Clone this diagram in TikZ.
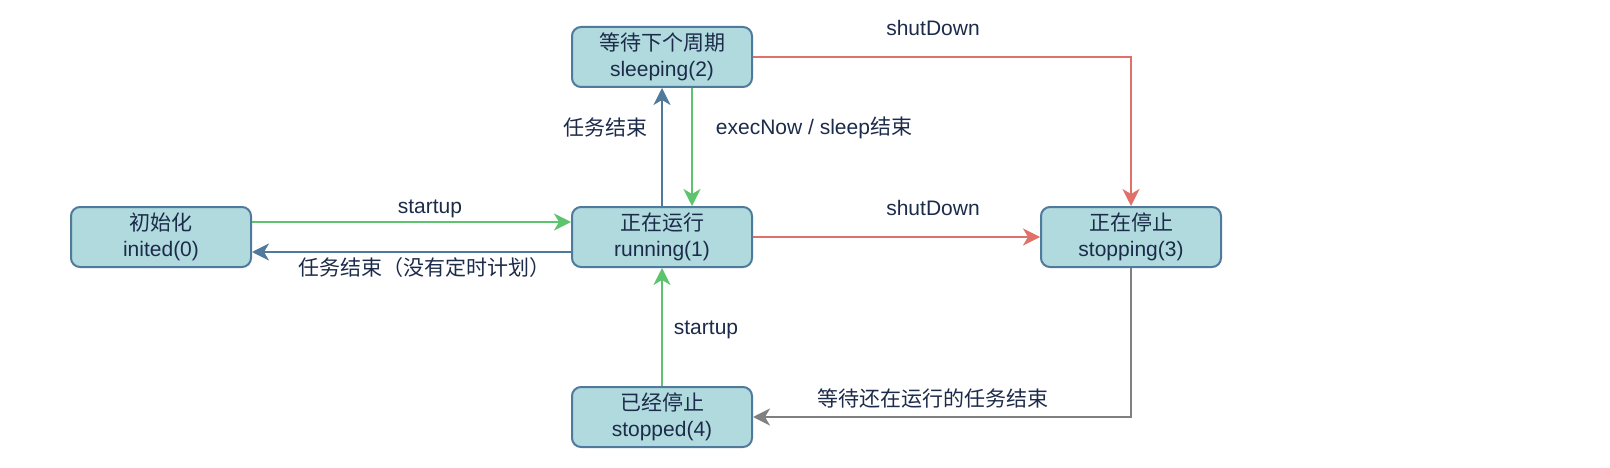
\documentclass[tikz,border=0pt]{standalone}
\usepackage{fontspec}
\setmainfont{Liberation Sans}
\newfontfamily\cjk{Noto Sans CJK SC}
\usetikzlibrary{arrows.meta}
\definecolor{boxfill}{HTML}{B0DADE}
\definecolor{boxline}{HTML}{4F7A9C}
\definecolor{txt}{HTML}{1C2B4A}
\definecolor{grn}{HTML}{5CC46C}
\definecolor{rd}{HTML}{E0706A}
\definecolor{gry}{HTML}{808080}
\begin{document}
\begin{tikzpicture}[x=1pt,y=-1pt,
  state/.style={draw=boxline, fill=boxfill, line width=2pt, rounded corners=9pt,
    minimum width=180pt, minimum height=60pt, align=center, text=txt,
    font=\fontsize{21}{26}\selectfont, inner sep=0pt},
  lbl/.style={text=txt, font=\fontsize{21}{26}\selectfont, inner sep=0pt},
  conn/.style={line width=2pt, -{Stealth[length=17pt,width=17pt,inset=5pt]}},
]
\useasboundingbox (0,0) rectangle (1610,468);
\node[state] (inited)   at (161,237)  {{\cjk 初始化}\\inited(0)};
\node[state] (running)  at (662,237)  {{\cjk 正在运行}\\running(1)};
\node[state] (sleeping) at (662,57)   {{\cjk 等待下个周期}\\sleeping(2)};
\node[state] (stopping) at (1131,237) {{\cjk 正在停止}\\stopping(3)};
\node[state] (stopped)  at (662,417)  {{\cjk 已经停止}\\stopped(4)};

\draw[conn, grn] ([yshift=15pt]inited.east) -- ([yshift=15pt]running.west);
\draw[conn, boxline] ([yshift=-15pt]running.west) -- ([yshift=-15pt]inited.east);
\draw[conn, boxline] (running.north) -- (sleeping.south);
\draw[conn, grn] ([xshift=30pt]sleeping.south) -- ([xshift=30pt]running.north);
\draw[conn, rd] (sleeping.east) -| (stopping.north);
\draw[conn, rd] (running.east) -- (stopping.west);
\draw[conn, gry] (stopping.south) |- (stopped.east);
\draw[conn, grn] (stopped.north) -- (running.south);

\node[lbl] (l1) at (430,209) {startup};
\node[lbl] (l2) at (424,268) {\cjk 任务结束（没有定时计划）};
\node[lbl] (l3) at (605,128) {\cjk 任务结束};
\node[lbl] (l4) at (814,128) {execNow / sleep{\cjk 结束}};
\node[lbl] (l5) at (933,28)  {shutDown};
\node[lbl] (l6) at (933,208) {shutDown};
\node[lbl] (l7) at (706,330) {startup};
\node[lbl] (l8) at (933,399) {\cjk 等待还在运行的任务结束};
\end{tikzpicture}
\end{document}
